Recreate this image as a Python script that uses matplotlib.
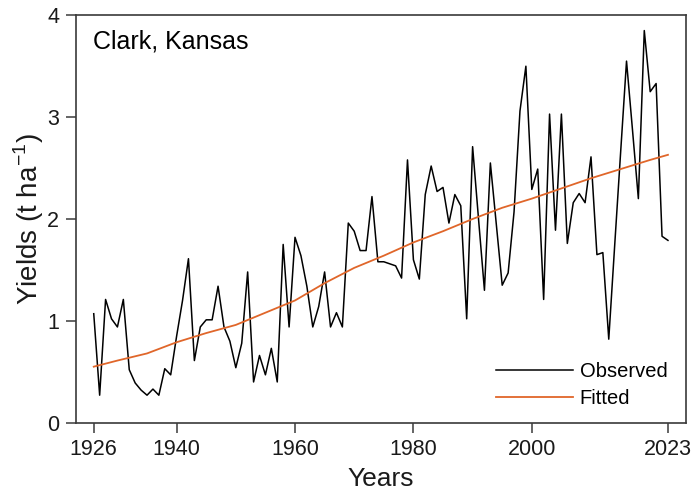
import matplotlib
matplotlib.use('Agg')
import matplotlib.pyplot as plt
import numpy as np

# Annual yields, Clark County, Kansas (t/ha)
years = np.arange(1926, 2024)
observed = [
    1.07, 0.27, 1.21, 1.02, 0.94, 1.21, 0.52, 0.39, 0.32, 0.27,
    0.33, 0.27, 0.53, 0.47, 0.85, 1.20, 1.61, 0.61, 0.94, 1.01,
    1.01, 1.34, 0.94, 0.80, 0.54, 0.78, 1.48, 0.40, 0.66, 0.47,
    0.73, 0.40, 1.75, 0.94, 1.82, 1.64, 1.34, 0.94, 1.14, 1.48,
    0.94, 1.08, 0.94, 1.96, 1.88, 1.69, 1.69, 2.22, 1.58, 1.58,
    1.56, 1.54, 1.42, 2.58, 1.60, 1.41, 2.24, 2.52, 2.27, 2.31,
    1.96, 2.24, 2.13, 1.02, 2.71, 2.00, 1.30, 2.55, 1.95, 1.35,
    1.47, 2.07, 3.06, 3.50, 2.29, 2.49, 1.21, 3.03, 1.89, 3.03,
    1.76, 2.16, 2.25, 2.16, 2.61, 1.65, 1.67, 0.82, 1.74, 2.65,
    3.55, 2.88, 2.20, 3.85, 3.25, 3.33, 1.83, 1.79,
]

# Smoothed trend
fit_years = [1926, 1930, 1935, 1940, 1945, 1950, 1955, 1960, 1965, 1970, 1975,
             1980, 1985, 1990, 1995, 2000, 2005, 2010, 2015, 2020, 2023]
fitted = [0.55, 0.61, 0.68, 0.79, 0.88, 0.96, 1.08, 1.20, 1.37, 1.52, 1.64,
          1.77, 1.88, 2.00, 2.11, 2.20, 2.30, 2.40, 2.49, 2.58, 2.63]

xticks = [1926, 1940, 1960, 1980, 2000, 2023]
yticks = [0, 1, 2, 3, 4]

plt.rcParams['font.family'] = ['Liberation Sans', 'DejaVu Sans']
plt.rcParams['mathtext.fontset'] = 'custom'
plt.rcParams['mathtext.rm'] = 'Liberation Sans'
spine_color = '#3a3a3a'

fig = plt.figure(figsize=(6.99, 5.01), dpi=100)
ax = fig.add_axes([0.1087, 0.1563, 0.8723, 0.8132])

ax.plot(years, observed, color='black', lw=1.1, label='Observed')
ax.plot(fit_years, fitted, color='#E0662A', lw=1.3, label='Fitted')

ax.set_xlim(1923, 2026)
ax.set_ylim(0, 4)
ax.set_xticks(xticks)
ax.set_yticks(yticks)
ax.tick_params(direction='out', length=7, width=1.1, color=spine_color,
               labelsize=15.5, labelcolor='#1a1a1a', pad=5)
for s in ax.spines.values():
    s.set_color(spine_color)
    s.set_linewidth(1.2)

ax.set_xlabel('Years', fontsize=19, color='#1a1a1a', labelpad=5)
ax.set_ylabel('Yields (t ha$^{\\mathrm{-1}}$)', fontsize=20,
              color='#1a1a1a', labelpad=1)
ax.text(0.028, 0.935, 'Clark, Kansas', transform=ax.transAxes,
        fontsize=18, va='center', ha='left', color='black')

ax.legend(loc='lower right', frameon=False, fontsize=14.5, handlelength=3.8,
          handletextpad=0.35, labelspacing=0.4,
          bbox_to_anchor=(1.0, -0.008))

fig.savefig('out.png', dpi=100)
